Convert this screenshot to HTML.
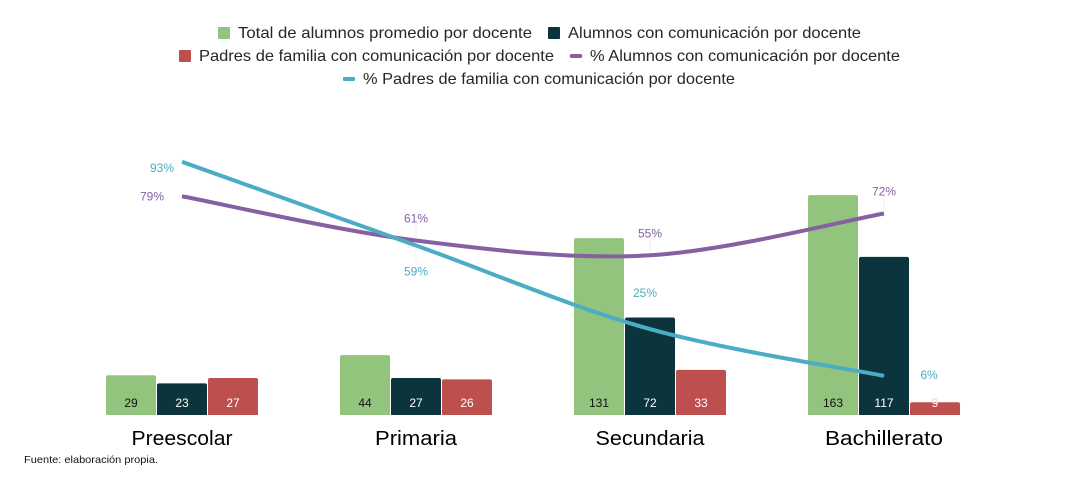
<!DOCTYPE html>
<html lang="es">
<head>
<meta charset="utf-8">
<title>Comunicación por docente</title>
<style>
html,body{margin:0;padding:0;background:#fff;width:1068px;height:480px;overflow:hidden}
svg{display:block}
text{font-family:"Liberation Sans","DejaVu Sans",sans-serif}
</style>
</head>
<body>
<svg id="chart" xmlns="http://www.w3.org/2000/svg" width="1068" height="480" viewBox="0 0 1068 480">
  <g font-size="16" fill="#262626">
    <g>
      <rect x="218" y="27" width="12" height="12" rx="1" fill="#93C47D"/>
      <text x="238" y="38" textLength="294" lengthAdjust="spacingAndGlyphs">Total de alumnos promedio por docente</text>
    </g>
    <g>
      <rect x="548" y="27" width="12" height="12" rx="1" fill="#0C343D"/>
      <text x="568" y="38" textLength="293" lengthAdjust="spacingAndGlyphs">Alumnos con comunicación por docente</text>
    </g>
    <g>
      <rect x="179" y="50" width="12" height="12" rx="1" fill="#BE4F4F"/>
      <text x="199" y="61" textLength="355" lengthAdjust="spacingAndGlyphs">Padres de familia con comunicación por docente</text>
    </g>
    <g>
      <rect x="570" y="54" width="12" height="4" rx="1" fill="#8561A3"/>
      <text x="590" y="61" textLength="310" lengthAdjust="spacingAndGlyphs">% Alumnos con comunicación por docente</text>
    </g>
    <g>
      <rect x="343" y="77" width="12" height="4" rx="1" fill="#4BACC6"/>
      <text x="363" y="84" textLength="372" lengthAdjust="spacingAndGlyphs">% Padres de familia con comunicación por docente</text>
    </g>
  </g>
  <g id="bars"></g>
  <g id="lines"></g>
  <g id="cats"></g>
  <text x="24" y="463" font-size="10.5" fill="#111" textLength="134" lengthAdjust="spacingAndGlyphs">Fuente: elaboración propia.</text>
</svg>
<script>
const categories = ["Preescolar", "Primaria", "Secundaria", "Bachillerato"];
const totalAlumnos = [29, 44, 131, 163];
const alumnosComunicacion = [23, 27, 72, 117];
const padresComunicacion = [27, 26, 33, 9];
const pctAlumnos = [79, 61, 55, 72];
const pctPadres = [93, 59, 25, 6];

const NS = "http://www.w3.org/2000/svg";
const xCenter = i => 182 + 234 * i;
const yBar = v => 414.3 - 1.345 * v;
const yPct = v => 390.6 - 2.46 * v;

function make(tag, parent, attrs, content) {
  const el = document.createElementNS(NS, tag);
  for (const k in attrs) el.setAttribute(k, attrs[k]);
  if (content !== undefined) el.textContent = content;
  parent.appendChild(el);
  return el;
}

const barsG = document.getElementById("bars");
const barSeries = [
  { key: "total", values: totalAlumnos, color: "#93C47D", text: "#111111", offset: -76 },
  { key: "alumnos", values: alumnosComunicacion, color: "#0C343D", text: "#ffffff", offset: -25 },
  { key: "padres", values: padresComunicacion, color: "#BE4F4F", text: "#ffffff", offset: 26 }
];
barSeries.forEach(s => {
  s.values.forEach((v, i) => {
    const x = xCenter(i) + s.offset;
    const top = yBar(v);
    const r = make("path", barsG, {
      d: `M${x} 415V${top + 2}Q${x} ${top} ${x + 2} ${top}H${x + 48}Q${x + 50} ${top} ${x + 50} ${top + 2}V415Z`,
      fill: s.color
    });
    
    
    const t = make("text", barsG, {
      x: x + 25, y: 407, "text-anchor": "middle", "font-size": 12, fill: s.text
    }, String(v));
    if (top > 396) {
      t.setAttribute("stroke", s.color);
      t.setAttribute("stroke-width", "0.5");
      t.setAttribute("stroke-opacity", "0.7");
      t.setAttribute("paint-order", "stroke");
    }
    
    
  });
});

function smoothPath(pts) {
  let d = `M${pts[0][0]} ${pts[0][1]}`;
  for (let i = 0; i < pts.length - 1; i++) {
    const p0 = pts[Math.max(i - 1, 0)];
    const p1 = pts[i];
    const p2 = pts[i + 1];
    const p3 = pts[Math.min(i + 2, pts.length - 1)];
    const c1x = p1[0] + (p2[0] - p0[0]) / 6;
    const c1y = p1[1] + (p2[1] - p0[1]) / 6;
    const c2x = p2[0] - (p3[0] - p1[0]) / 6;
    const c2y = p2[1] - (p3[1] - p1[1]) / 6;
    d += `C${c1x} ${c1y} ${c2x} ${c2y} ${p2[0]} ${p2[1]}`;
  }
  return d;
}

const linesG = document.getElementById("lines");
const lineSeries = [
  { values: pctAlumnos, color: "#8561A3",
    labelDx: [-30, 0, 0, 0], labelDy: [4, -18, -18, -18] },
  { values: pctPadres, color: "#4BACC6",
    labelDx: [-20, 0, -5, 45], labelDy: [10, 30, -32, 3] }
];
lineSeries.forEach(s => {
  const pts = s.values.map((v, i) => [xCenter(i), yPct(v)]);
  pts.forEach((p, i) => {
    if (s.labelDx[i] === 0) {
      const up = s.labelDy[i] < 0;
      const leader = make("line", linesG, {
        x1: p[0], x2: p[0],
        y1: p[1] + (up ? -4 : 4),
        y2: p[1] + (up ? -15 : 15),
        stroke: "#ececec", "stroke-width": 1
      });
      
      
    }
  });
  const line = make("path", linesG, {
    d: smoothPath(pts), fill: "none", stroke: s.color, "stroke-width": 4, "stroke-linecap": "butt"
  });
  
  
  s.values.forEach((v, i) => {
    const t = make("text", linesG, {
      x: pts[i][0] + s.labelDx[i],
      y: pts[i][1] + s.labelDy[i],
      "text-anchor": "middle", "font-size": 12, fill: s.color
    }, v + "%");
    
    
  });
});

const catsG = document.getElementById("cats");
const catWidths = [101, 82, 109, 118];
categories.forEach((c, i) => {
  const t = make("text", catsG, {
    x: xCenter(i) - catWidths[i] / 2,
    y: 445, "font-size": 20, fill: "#000",
    textLength: catWidths[i], lengthAdjust: "spacingAndGlyphs"
  }, c);
  
  
});
</script>
</body>
</html>
